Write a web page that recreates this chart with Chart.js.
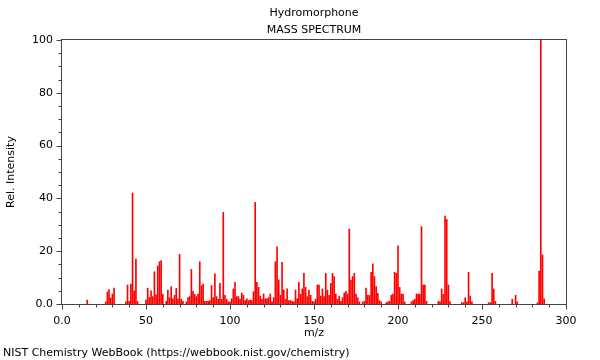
<!DOCTYPE html>
<html>
<head>
<meta charset="utf-8">
<script src="https://cdn.jsdelivr.net/npm/chart.js@4/dist/chart.umd.min.js"></script>
<style>
  body { margin: 0; background: #fff; }
  #wrap { width: 600px; height: 360px; }
</style>
</head>
<body>
<div id="wrap"><canvas id="myChart" width="600" height="360"></canvas></div>
<script>
// m/z values and relative intensities
const mz = [
  15, 26, 27, 28, 29, 30, 31, 38, 39, 40, 41, 42, 43, 44, 45,
  50, 51, 52, 53, 54, 55, 56, 57, 58, 59, 60, 62, 63, 64, 65, 66, 67, 68, 69,
  70, 71, 72, 74, 75, 76, 77, 78, 79, 80, 81, 82, 83, 84, 85, 86, 87, 88, 89,
  90, 91, 92, 93, 94, 95, 96, 97, 98, 99, 100, 101, 102, 103, 104, 105, 106, 107, 108, 109,
  110, 111, 112, 113, 114, 115, 116, 117, 118, 119, 120, 121, 122, 123, 124, 125, 126, 127, 128, 129,
  130, 131, 132, 133, 134, 135, 136, 137, 138, 139, 140, 141, 142, 143, 144, 145, 146, 147, 148, 149,
  150, 151, 152, 153, 154, 155, 156, 157, 158, 159, 160, 161, 162, 163, 164, 165, 166, 167, 168, 169,
  170, 171, 172, 173, 174, 175, 176, 177, 179, 180, 181, 182, 183, 184, 185, 186, 187, 188, 189,
  190, 193, 194, 195, 196, 197, 198, 199, 200, 201, 202, 203, 204, 208, 209,
  210, 211, 212, 213, 214, 215, 216, 217, 224, 225, 226, 227, 228, 229, 230, 231,
  238, 239, 240, 241, 242, 243, 244, 254, 255, 256, 257, 258, 268, 270, 271,
  283, 284, 285, 286, 287
];
const intensity = [
  1.5, 0.8, 4.5, 5.5, 2.3, 3.8, 6, 0.8, 7.2, 1, 7.5, 42, 5, 17, 1,
  1.5, 6, 2.5, 5, 2.8, 12.2, 3.5, 14.4, 16, 16.4, 3.7, 1, 5.3, 2.4, 6.6, 2, 3.3, 5.9, 2,
  18.8, 1.8, 1, 0.8, 2.4, 2.8, 13.1, 4.8, 3.7, 2.8, 3.8, 16, 6.9, 7.5, 1, 1, 1, 1.3, 7,
  2.4, 11.4, 2.8, 1.8, 7.8, 1.8, 34.7, 3.3, 1.8, 0.8, 0.8, 2, 5.7, 8.2, 2.8, 2.8, 1.8, 4.2, 3.3, 1.3,
  2, 1.3, 1.5, 1.3, 4.7, 38.5, 8.2, 6.3, 3, 1.8, 3.8, 2, 2, 2.4, 3.8, 0.8, 2.4, 16, 21.7, 9.1,
  3.3, 15.8, 5.3, 1.8, 5.7, 1.3, 1.3, 1, 0.8, 5.3, 2, 8.2, 3.7, 5.7, 11.6, 6.3, 2.8, 5.3, 3.3, 1,
  0.8, 1.8, 7.2, 7.2, 3, 5.7, 2.8, 11.6, 5.3, 3.3, 7.8, 11.6, 10.4, 3.8, 1.8, 3, 1, 2.4, 4.2, 4.8,
  3.8, 28.4, 9.1, 10.4, 11.6, 3.8, 2.4, 0.8, 0.8, 1, 6, 3.3, 3.3, 12, 15.2, 10.4, 6.6, 4, 1.3,
  0.8, 0.5, 0.8, 1, 3.3, 3.8, 12, 11.6, 22, 6.3, 3.8, 3.7, 0.8, 0.8, 1.3,
  1.8, 3.8, 3.8, 3.7, 29.3, 7.2, 7.2, 1, 1, 0.8, 5.7, 3.7, 33.3, 32, 7.2, 0.8,
  0.5, 0.5, 2.4, 0.8, 12, 3, 0.8, 0.5, 0.5, 11.6, 5.7, 1, 1.8, 3.3, 0.8,
  0.5, 12.5, 100, 18.6, 2
];
const titleLines = ['Hydromorphone', 'MASS SPECTRUM'];
const footer = 'NIST Chemistry WebBook (https://webbook.nist.gov/chemistry)';

const font11 = { family: '"DejaVu Sans", sans-serif', size: 11 };

// frame around the plot + major/minor tick marks (Chart.js has no minor ticks)
const frameTicks = {
  id: 'frameTicks',
  afterDraw(chart) {
    const { ctx, chartArea: a, scales: { x, y } } = chart;
    ctx.save();
    ctx.strokeStyle = '#444';
    ctx.lineWidth = 1;
    const L = Math.round(a.left) - 0.5, R = Math.round(a.right) + 0.5;
    const T = Math.round(a.top) - 0.5, B = Math.round(a.bottom) + 0.5;
    ctx.strokeRect(L, T, R - L, B - T);
    ctx.beginPath();
    x.ticks.forEach(t => {
      const px = Math.round(x.getPixelForValue(t.value)) + 0.5;
      const len = t.value % 50 === 0 ? 5 : 3;
      ctx.moveTo(px, B); ctx.lineTo(px, B + len);
    });
    y.ticks.forEach(t => {
      const py = Math.round(y.getPixelForValue(t.value)) + 0.5;
      const len = t.value % 20 === 0 ? 5 : 3;
      ctx.moveTo(L, py); ctx.lineTo(L - len, py);
    });
    ctx.stroke();
    ctx.restore();
  }
};

new Chart(document.getElementById('myChart').getContext('2d'), {
  type: 'bar',
  data: {
    datasets: [{
      data: mz.map((m, i) => ({ x: m, y: intensity[i] })),
      backgroundColor: '#ff0000',
      borderWidth: 0,
      barThickness: 1
    }]
  },
  options: {
    responsive: false,
    animation: false,
    devicePixelRatio: 1,
    layout: { padding: { left: 3, right: 34, top: 0, bottom: 0 } },
    plugins: {
      legend: { display: false },
      tooltip: { enabled: false },
      title: {
        display: true,
        text: titleLines,
        color: '#000',
        fullSize: false,
        font: { ...font11, weight: 'normal', lineHeight: 17 / 11 },
        padding: { top: 4.5, bottom: 1.5 }
      },
      subtitle: {
        display: true,
        text: footer,
        position: 'bottom',
        align: 'start',
        color: '#000',
        font: { ...font11, weight: 'normal' },
        padding: { top: 3.8, bottom: 0 }
      }
    },
    scales: {
      x: {
        type: 'linear',
        min: 0, max: 300,
        offset: false,
        grid: { display: false },
        border: { display: false },
        afterFit: s => { s.height = 39; },
        ticks: {
          stepSize: 10,
          autoSkip: false,
          maxRotation: 0,
          padding: 3,
          color: '#000',
          font: font11,
          callback: v => v === 0 ? '0.0' : (v % 50 === 0 ? String(v) : '')
        },
        title: {
          display: true, text: 'm/z', color: '#000', font: font11,
          padding: { top: 0, bottom: 3 }
        }
      },
      y: {
        min: 0, max: 100,
        grid: { display: false },
        border: { display: false },
        afterFit: s => { s.width = 59; },
        ticks: {
          stepSize: 5,
          autoSkip: false,
          padding: 1,
          color: '#000',
          font: font11,
          callback: v => v === 0 ? '0.0' : (v % 20 === 0 ? String(v) : '')
        },
        title: {
          display: true, text: 'Rel. Intensity', color: '#000', font: font11,
          padding: { top: 1.4, bottom: 0 }
        }
      }
    }
  },
  plugins: [frameTicks]
});
</script>
</body>
</html>
